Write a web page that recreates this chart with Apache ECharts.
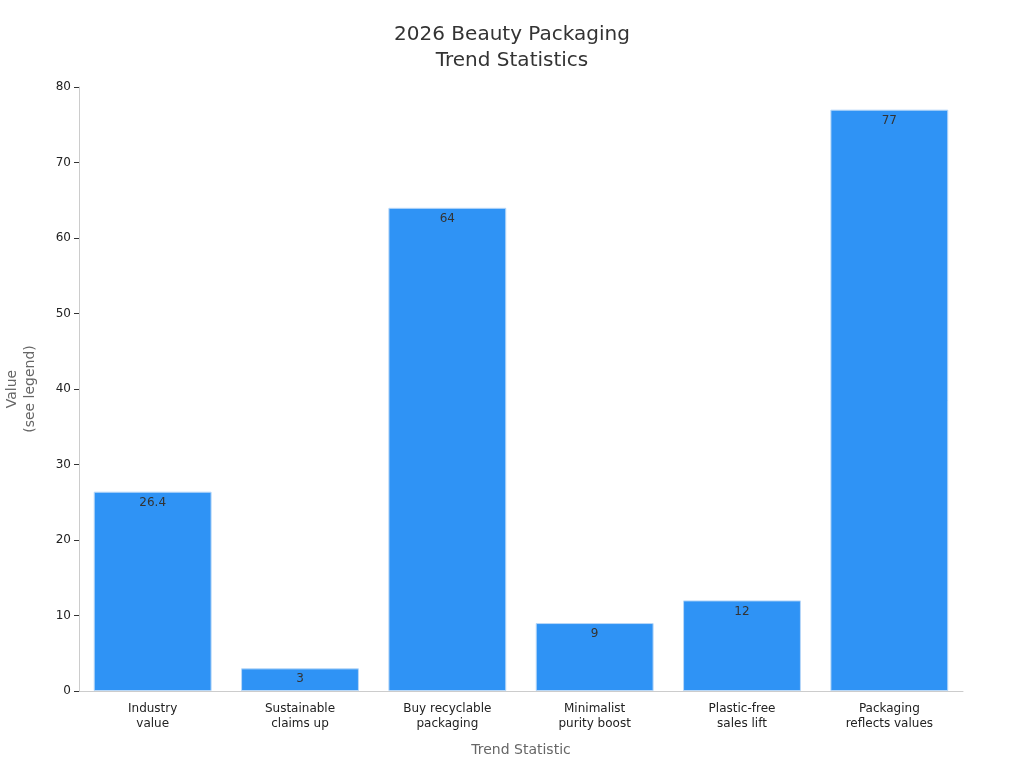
<!DOCTYPE html>
<html><head><meta charset="utf-8">
<script src="https://cdn.jsdelivr.net/npm/echarts@6/dist/echarts.min.js"></script>
<style>html,body{margin:0;padding:0}#c{width:1024px;height:768px}</style>
</head><body><div id="c"></div>
<script>
const categories = ["Industry\nvalue","Sustainable\nclaims up","Buy recyclable\npackaging","Minimalist\npurity boost","Plastic-free\nsales lift","Packaging\nreflects values"];
const values = [26.4, 3, 64, 9, 12, 77];
const chart = echarts.init(document.getElementById('c'));
chart.setOption({
  animation:false,
  textStyle:{fontFamily:'DejaVu Sans'},
  title:{text:'2026 Beauty Packaging\nTrend Statistics',left:'center',top:17,textStyle:{fontSize:20,fontWeight:'normal',color:'#333',lineHeight:26,fontFamily:'DejaVu Sans'}},
  grid:{left:79,right:61,top:87,bottom:77,outerBoundsMode:'none'},
  xAxis:{type:'category',data:categories,name:'Trend Statistic',nameLocation:'middle',nameGap:52,
    nameTextStyle:{color:'#666',fontSize:14},
    axisLine:{lineStyle:{color:'#ccc'}},axisTick:{show:false},
    axisLabel:{color:'#222',fontSize:12,lineHeight:15,margin:10}},
  yAxis:{type:'value',min:0,max:80,interval:10,name:'Value\n(see legend)',nameLocation:'middle',nameGap:40,
    nameTextStyle:{color:'#666',fontSize:14,lineHeight:18},
    axisLine:{show:true,lineStyle:{color:'#ccc'}},axisTick:{show:true,lineStyle:{color:'#333'}},
    splitLine:{show:false},axisLabel:{color:'#222',fontSize:12}},
  series:[{type:'bar',data:values,barWidth:'80%',
    itemStyle:{color:'#2f93f5',borderColor:'#b8d8f8',borderWidth:1},
    label:{show:true,position:'insideTop',color:'#333',fontSize:12}}]
});
</script></body></html>
